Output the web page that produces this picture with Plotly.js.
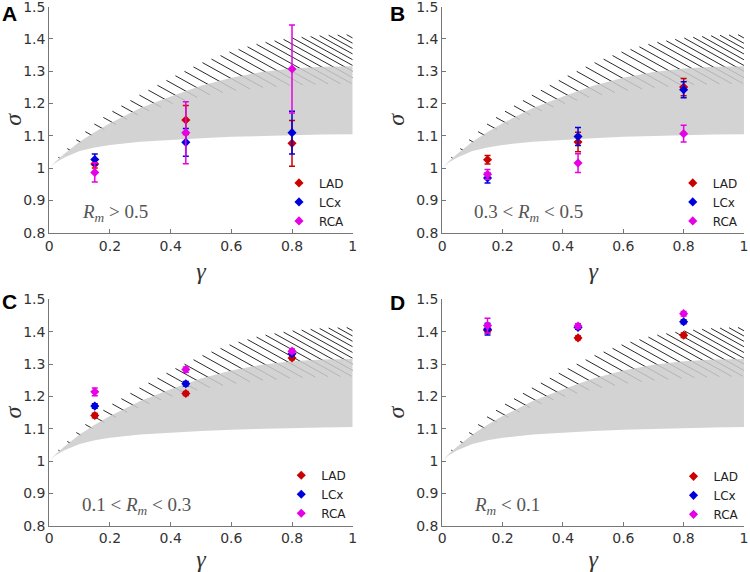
<!DOCTYPE html>
<html>
<head>
<meta charset="utf-8">
<script src="https://cdn.plot.ly/plotly-3.0.1.min.js"></script>
<style>html,body{margin:0;padding:0;background:#fff;overflow:hidden;}#chart{width:750px;height:572px;}</style>
</head>
<body>
<div id="chart"></div>
<script>
// ---- theoretical band curves ----
var curveX     = [0, 0.02, 0.05, 0.1, 0.15, 0.2, 0.3, 0.4, 0.5, 0.6, 0.7, 0.8, 0.9, 1.0];
var grayLower  = [1.0, 1.017, 1.033, 1.053, 1.064, 1.072, 1.082, 1.088, 1.093, 1.097, 1.100, 1.102, 1.104, 1.105];
var grayUpper  = [1.0, 1.020, 1.045, 1.082, 1.112, 1.139, 1.186, 1.222, 1.255, 1.280, 1.298, 1.309, 1.314, 1.316];
var hatchLower = [1.0, 1.019, 1.042, 1.076, 1.104, 1.128, 1.168, 1.198, 1.222, 1.238, 1.249, 1.256, 1.260, 1.262];
var hatchUpper = [1.0, 1.025, 1.052, 1.098, 1.138, 1.172, 1.228, 1.279, 1.325, 1.362, 1.388, 1.403, 1.411, 1.414];

// ---- measured data ----
var gammaPos = [0.15, 0.45, 0.8];
var seriesNames = ['LAD', 'LCx', 'RCA'];
var panelLabels = ['A', 'B', 'C', 'D'];
var rmLabels = ['<i>R</i><sub><i>m</i></sub> &gt; 0.5',
                '0.3 &lt; <i>R</i><sub><i>m</i></sub> &lt; 0.5',
                '0.1 &lt; <i>R</i><sub><i>m</i></sub> &lt; 0.3',
                '<i>R</i><sub><i>m</i></sub> &lt; 0.1'];
var xTickVals = [0, 0.2, 0.4, 0.6, 0.8, 1];
var xTickText = ['0', '0.2', '0.4', '0.6', '0.8', '1'];

var LAD_A = [1.013, 1.149, 1.077], LAD_A_err = [0.012, 0.045, 0.071];
var LCx_A = [1.027, 1.080, 1.110], LCx_A_err = [0.017, 0.043, 0.066];
var RCA_A = [0.987, 1.110, 1.307], RCA_A_err = [0.030, 0.096, 0.136];

var LAD_B = [1.026, 1.081, 1.251], LAD_B_err = [0.013, 0.030, 0.027];
var LCx_B = [0.970, 1.098, 1.243], LCx_B_err = [0.016, 0.028, 0.025];
var RCA_B = [0.981, 1.016, 1.107], RCA_B_err = [0.015, 0.029, 0.026];

var LAD_C = [1.141, 1.209, 1.319], LAD_C_err = [0.007, 0.006, 0.006];
var LCx_C = [1.170, 1.239, 1.332], LCx_C_err = [0.007, 0.007, 0.005];
var RCA_C = [1.214, 1.283, 1.340], RCA_C_err = [0.012, 0.008, 0.007];

var LAD_D = [1.404, 1.381, 1.389], LAD_D_err = [0.008, 0.006, 0.007];
var LCx_D = [1.408, 1.413, 1.431], LCx_D_err = [0.018, 0.005, 0.006];
var RCA_D = [1.419, 1.418, 1.456], RCA_D_err = [0.023, 0.007, 0.007];

var panels = [
  {vals: [LAD_A, LCx_A, RCA_A], errs: [LAD_A_err, LCx_A_err, RCA_A_err]},
  {vals: [LAD_B, LCx_B, RCA_B], errs: [LAD_B_err, LCx_B_err, RCA_B_err]},
  {vals: [LAD_C, LCx_C, RCA_C], errs: [LAD_C_err, LCx_C_err, RCA_C_err]},
  {vals: [LAD_D, LCx_D, RCA_D], errs: [LAD_D_err, LCx_D_err, RCA_D_err]}
];
var seriesColors = ['#cc0000', '#0000dd', '#e600e6'];

// ---- hatch line geometry built from the curves ----
function interp(xs, ys, x) {
  if (x <= xs[0]) return ys[0];
  for (var i = 1; i < xs.length; i++) {
    if (x <= xs[i]) {
      var t = (x - xs[i-1]) / (xs[i] - xs[i-1]);
      return ys[i-1] + t * (ys[i] - ys[i-1]);
    }
  }
  return ys[ys.length-1];
}
function hatchSegments() {
  var hx = [], hy = [];
  var spacing = 0.0297, slope = 0.52;
  for (var x0 = spacing; x0 < 1; x0 += spacing) {
    var y0 = interp(curveX, hatchUpper, x0);
    var x1 = x0, y1 = y0;
    while (x1 < 1) {
      var nx = Math.min(1, x1 + 0.001);
      var ny = y0 - slope * (nx - x0);
      if (ny <= interp(curveX, hatchLower, nx)) break;
      x1 = nx; y1 = ny;
    }
    if (x1 > x0) { hx.push(x0, x1, null); hy.push(y0, y1, null); }
  }
  return {x: hx, y: hy};
}
var hatch = hatchSegments();

var traces = [];
var axSuffix = ['', '2', '3', '4'];
var legendIds = ['legend', 'legend2', 'legend3', 'legend4'];
for (var p = 0; p < 4; p++) {
  var xa = 'x' + axSuffix[p], ya = 'y' + axSuffix[p];
  traces.push({x: hatch.x, y: hatch.y, xaxis: xa, yaxis: ya, mode: 'lines',
    line: {color: '#2a2a2a', width: 1}, showlegend: false, hoverinfo: 'skip'});
  traces.push({x: curveX, y: grayLower, xaxis: xa, yaxis: ya, mode: 'lines',
    line: {width: 0, color: 'rgba(0,0,0,0)'}, showlegend: false, hoverinfo: 'skip'});
  traces.push({x: curveX, y: grayUpper, xaxis: xa, yaxis: ya, mode: 'lines', fill: 'tonexty',
    fillcolor: 'rgba(204,204,204,0.86)', line: {width: 0, color: 'rgba(0,0,0,0)'},
    showlegend: false, hoverinfo: 'skip'});
  for (var s = 0; s < 3; s++) {
    traces.push({
      x: gammaPos, y: panels[p].vals[s], xaxis: xa, yaxis: ya,
      name: seriesNames[s], legend: legendIds[p], mode: 'markers',
      marker: {symbol: 'diamond', size: 7, color: seriesColors[s]},
      error_y: {type: 'data', array: panels[p].errs[s], color: seriesColors[s], thickness: 1.5, width: 3}
    });
  }
}

var tickFont = {family: 'DejaVu Sans, sans-serif', size: 14, color: '#333'};
function xaxisDef(dom, anchor) {
  return {domain: dom, anchor: anchor, range: [0, 1.0001], tickmode: 'array',
    tickvals: xTickVals, ticktext: xTickText,
    showgrid: false, zeroline: false, showline: true, linecolor: '#777', linewidth: 1,
    ticks: 'inside', ticklen: 4, tickcolor: '#777', tickfont: tickFont, ticklabeloverflow: 'allow',
    title: {text: '<i>γ</i>', font: {family: 'Liberation Serif, serif', size: 24, color: '#333'}, standoff: 9},
    automargin: false, fixedrange: true};
}
function yaxisDef(dom, anchor) {
  return {domain: dom, anchor: anchor, range: [0.8, 1.5], dtick: 0.1, tick0: 0.8,
    showgrid: false, zeroline: false, showline: true, linecolor: '#777', linewidth: 1,
    ticks: 'inside', ticklen: 4, tickcolor: '#777', tickfont: tickFont, ticklabeloverflow: 'allow',
    title: {text: '<i>σ</i>', font: {family: 'Liberation Serif, serif', size: 24, color: '#333'}, standoff: 4},
    automargin: false, fixedrange: true};
}
var xL = [0.0657, 0.4703], xR = [0.5897, 0.9920];
var yT = [0.5930, 0.9883], yB = [0.0810, 0.4765];

function legendDef(x, y) {
  return {x: x, y: y, xanchor: 'left', yanchor: 'middle', bgcolor: 'rgba(0,0,0,0)',
    borderwidth: 0, font: {family: 'DejaVu Sans, sans-serif', size: 12, color: '#222'},
    tracegroupgap: 0, itemwidth: 30, traceorder: 'normal'};
}

var annotations = [];
var letterPos = [[0.0, 1.0], [0.517, 1.0], [0.0, 0.497], [0.517, 0.495]];
for (var p = 0; p < 4; p++) {
  annotations.push({xref: 'paper', yref: 'paper', x: letterPos[p][0], y: letterPos[p][1],
    xanchor: 'left', yanchor: 'top', showarrow: false, text: '<b>' + panelLabels[p] + '</b>',
    font: {family: 'Liberation Sans, Arial, sans-serif', size: 21, color: '#000'}});
  annotations.push({xref: 'x' + axSuffix[p], yref: 'y' + axSuffix[p], x: 0.1, y: 0.862,
    xanchor: 'left', yanchor: 'middle', showarrow: false, text: rmLabels[p],
    font: {family: 'Liberation Serif, serif', size: 19, color: '#555'}});
}

var layout = {
  width: 750, height: 572, margin: {l: 0, r: 0, t: 0, b: 0},
  paper_bgcolor: '#fff', plot_bgcolor: 'rgba(0,0,0,0)',
  xaxis: xaxisDef(xL, 'y'), yaxis: yaxisDef(yT, 'x'),
  xaxis2: xaxisDef(xR, 'y2'), yaxis2: yaxisDef(yT, 'x2'),
  xaxis3: xaxisDef(xL, 'y3'), yaxis3: yaxisDef(yB, 'x3'),
  xaxis4: xaxisDef(xR, 'y4'), yaxis4: yaxisDef(yB, 'x4'),
  legend: legendDef(0.372, 0.647),
  legend2: legendDef(0.897, 0.647),
  legend3: legendDef(0.375, 0.136),
  legend4: legendDef(0.898, 0.134),
  annotations: annotations,
  showlegend: true
};

Plotly.newPlot('chart', traces, layout, {staticPlot: true, displayModeBar: false});
</script>
</body>
</html>
